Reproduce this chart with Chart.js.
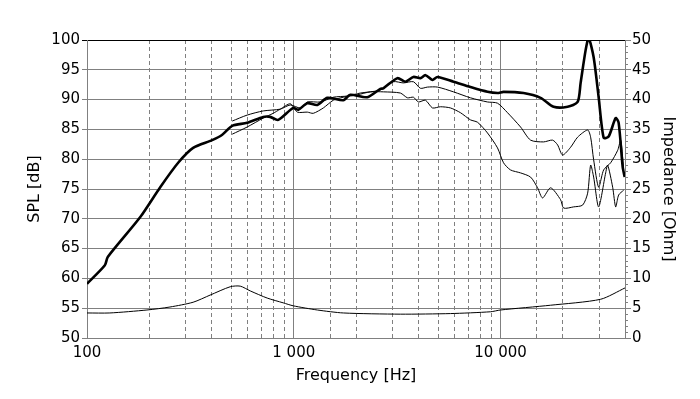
<!DOCTYPE html>
<html><head><meta charset="utf-8">
<script src="https://cdn.jsdelivr.net/npm/chart.js@4/dist/chart.umd.min.js"></script>
<style>html,body{margin:0;padding:0;background:#fff;}canvas{display:block;}</style>
</head><body>
<canvas id="c" width="700" height="399"></canvas>
<script>
// ---- Data ----
const freqOn = [100,122,126,181,226,276,326,403,451,504,595,712,769,841,994,1052,1163,1300,1453,1737,1877,2269,2624,2712,3171,3467,3791,4098,4335,4686,4954,5922,7155,8650,9671,10340,12925,15617,18056,21111,23602,24403,25801,26685,28210,29828,31535,33340,36057,37275,38978,39860];
const splOn = [59.1,62.2,63.6,70.3,75.3,79.4,81.9,83.2,84.1,85.6,86.1,87.1,87.1,86.6,88.6,88.3,89.4,89.1,90.3,89.9,90.8,90.4,91.8,91.9,93.6,93.0,93.8,93.6,94.1,93.3,93.8,93.0,92.1,91.3,91.1,91.3,91.1,90.3,88.8,88.8,89.6,92.8,98.3,100.3,97.1,90.4,83.6,83.8,86.9,86.1,78.7,77.0];

const freqMid = [504,595,712,861,962,1075,1163,1344,1554,1816,2099,2624,3032,3391,3791,4098,4432,4954,5922,7155,8650,9671,10812,12502,13975,16154,17857,18880,19963,21827,23602,26387,27282,28210,29828,31535,34093,36872,38125,38800,39405];
const splMid = [86.4,87.4,88.1,88.4,89.1,88.6,89.6,89.6,90.4,90.6,91.1,91.6,93.0,92.8,93.0,91.9,92.1,92.1,91.3,90.3,89.6,89.4,87.8,85.4,83.2,82.9,83.2,82.4,80.7,82.0,83.7,84.9,83.7,79.9,75.3,78.2,79.4,81.5,83.2,81.0,78.2];

const freqLow = [504,595,712,795,861,962,1040,1163,1243,1390,1554,1737,2030,2347,2712,3279,3545,3791,4008,4335,4686,5122,5727,6402,7155,7738,8650,9671,10340,11177,12502,13975,15108,15974,17463,19526,20189,22570,24954,26387,27282,28210,29828,32251,32978,34868,36057,37275,39405];
const splLow = [84.2,85.4,86.9,87.7,88.4,89.3,87.9,87.9,87.7,88.6,89.9,90.4,90.8,91.3,91.3,91.1,90.3,90.4,89.6,89.9,88.6,88.8,88.6,87.8,86.6,86.2,84.4,81.9,79.4,78.2,77.7,77.0,75.2,73.5,75.2,73.2,71.8,72.0,72.3,74.3,79.0,77.0,72.0,77.7,79.0,75.3,72.0,74.0,74.8];

const freqImp = [100,129,195,252,326,394,493,551,616,744,889,994,1300,1737,3279,5727,8942,10000,17463,30500,40000];
const impOhm = [4.2,4.2,4.7,5.2,6.0,7.2,8.6,8.7,7.9,6.7,5.9,5.4,4.7,4.2,4.0,4.1,4.4,4.7,5.5,6.5,8.4];

const xTickLabels = {100:'100', 1000:'1 000', 10000:'10 000'};
const decades = [100, 1000, 10000];

// ---- Styling ----
const FONT = "'DejaVu Sans', Verdana, sans-serif";
const GRID = '#808080';
const toXY = (xs, ys) => xs.map((x, i) => ({x: x, y: ys[i]}));

const minorTicks = {
  id: 'minorTicks',
  afterDraw(chart) {
    const s = chart.scales.y2, c = chart.ctx;
    c.save();
    c.strokeStyle = GRID; c.lineWidth = 1;
    c.beginPath();
    for (let v = 0; v <= 50; v++) {
      if (v % 5 === 0) continue;
      const y = Math.round(s.getPixelForValue(v)) + 0.5;
      c.moveTo(s.left, y); c.lineTo(s.left + 3, y);
    }
    c.stroke();
    c.restore();
  }
};

const lineStyle = (w) => ({borderColor:'#000', borderWidth:w, pointRadius:0, tension:0.25, fill:false});

new Chart(document.getElementById('c'), {
  type: 'line',
  data: {datasets: [
    Object.assign({label:'Impedance', data: toXY(freqImp, impOhm), yAxisID:'y2'}, lineStyle(1)),
    Object.assign({label:'60 deg', data: toXY(freqLow, splLow), yAxisID:'y'}, lineStyle(1)),
    Object.assign({label:'30 deg', data: toXY(freqMid, splMid), yAxisID:'y'}, lineStyle(1)),
    Object.assign({label:'On axis', data: toXY(freqOn, splOn), yAxisID:'y'}, lineStyle(2.6))
  ]},
  options: {
    responsive: false, animation: false, devicePixelRatio: 1,
    layout: {padding: {top: 40, left: 0, right: 0, bottom: 0}},
    plugins: {legend: {display: false}, tooltip: {enabled: false}},
    scales: {
      x: {
        type: 'logarithmic', min: 100, max: 40000,
        afterFit(s) { s.height = 61; },
        grid: {color: GRID, lineWidth: 1, drawTicks: false},
        border: {display: true, color: GRID,
          dash: c => (c.type === 'tick' && c.tick && !decades.includes(Math.round(c.tick.value))) ? [4, 3] : []},
        ticks: {autoSkip: false, maxRotation: 0, padding: 6, color: '#000',
          font: {family: FONT, size: 15},
          callback: v => xTickLabels[Math.round(v)] || ''},
        title: {display: true, text: 'Frequency [Hz]', color: '#000',
          font: {family: FONT, size: 16}, padding: {top: 0, bottom: 14}}
      },
      y: {
        position: 'left', min: 50, max: 100,
        afterFit(s) { s.width = 87; },
        ticks: {stepSize: 5, padding: 2, color: '#000', font: {family: FONT, size: 15}},
        grid: {color: c => (c.tick && c.tick.value === 100) ? '#000' : GRID, tickLength: 5},
        border: {color: GRID},
        title: {display: true, text: 'SPL [dB]', color: '#000',
          font: {family: FONT, size: 16}, padding: {top: 25, bottom: 0}}
      },
      y2: {
        position: 'right', min: 0, max: 50,
        afterFit(s) { s.width = 75; },
        ticks: {stepSize: 5, padding: 1, color: '#000', font: {family: FONT, size: 15}},
        grid: {drawOnChartArea: false, tickLength: 6, color: GRID},
        border: {color: GRID},
        title: {display: true, text: 'Impedance [Ohm]', color: '#000',
          font: {family: FONT, size: 16}, padding: {top: 22, bottom: 0}}
      }
    }
  },
  plugins: [minorTicks]
});
</script>
</body></html>
